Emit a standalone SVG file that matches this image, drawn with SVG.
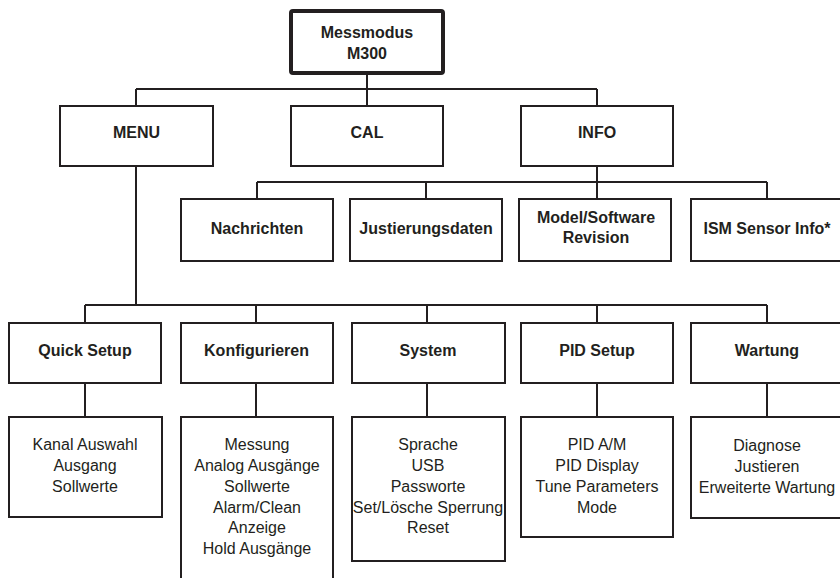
<svg xmlns="http://www.w3.org/2000/svg" width="840" height="578" viewBox="0 0 840 578">
<style>
.box{fill:#fff;stroke:#231f20;stroke-width:2}
.root{fill:#fff;stroke:#231f20;stroke-width:4}
.conn{fill:none;stroke:#231f20;stroke-width:2}
.h{font-family:"Liberation Sans",Arial,sans-serif;font-weight:bold;font-size:16px;fill:#231f20;text-anchor:middle}
.t{font-family:"Liberation Sans",Arial,sans-serif;font-size:16px;fill:#231f20;text-anchor:middle}
</style>
<rect width="840" height="578" fill="#fff"/>
<g id="connectors">
<path class="conn" d="M367 75V89M136 89H597M136 89V106M367 89V106M597 89V106"/>
<path class="conn" d="M597 166V182M257 182H767M257 182V199M426 182V199M597 182V199M767 182V199"/>
<path class="conn" d="M136 166V305M85 305H767M85 305V323M256 305V323M427 305V323M597 305V323M767 305V323"/>
<path class="conn" d="M85 383V417M256 383V417M427 383V417M597 383V417M767 383V417"/>
</g>
<g id="root"><rect class="root" x="291" y="11" width="152" height="62" rx="2"/><text class="h" x="367" y="38">Messmodus</text><text class="h" x="367" y="59">M300</text></g>
<g id="menu"><rect class="box" x="60" y="106" width="153" height="60"/><text class="h" x="136.5" y="138">MENU</text></g>
<g id="cal"><rect class="box" x="291" y="106" width="152" height="60"/><text class="h" x="367" y="138">CAL</text></g>
<g id="info"><rect class="box" x="521" y="106" width="152" height="60"/><text class="h" x="597" y="138">INFO</text></g>
<g id="nachrichten"><rect class="box" x="181" y="199" width="152" height="62"/><text class="h" x="257" y="234">Nachrichten</text></g>
<g id="justierungsdaten"><rect class="box" x="350" y="199" width="152" height="62"/><text class="h" x="426" y="234">Justierungsdaten</text></g>
<g id="model"><rect class="box" x="519" y="199" width="152" height="62"/><text class="h" x="596" y="223">Model/Software</text><text class="h" x="596" y="243">Revision</text></g>
<g id="ism"><rect class="box" x="691" y="199" width="152" height="62"/><text class="h" x="767" y="234">ISM Sensor Info*</text></g>
<g id="quicksetup"><rect class="box" x="9" y="323" width="152" height="60"/><text class="h" x="85" y="356">Quick Setup</text></g>
<g id="konfigurieren"><rect class="box" x="181" y="323" width="152" height="60"/><text class="h" x="256.5" y="356">Konfigurieren</text></g>
<g id="system"><rect class="box" x="352" y="323" width="153" height="60"/><text class="h" x="428" y="356">System</text></g>
<g id="pidsetup"><rect class="box" x="521" y="323" width="152" height="60"/><text class="h" x="597" y="356">PID Setup</text></g>
<g id="wartung"><rect class="box" x="691" y="323" width="152" height="60"/><text class="h" x="767" y="356">Wartung</text></g>
<g id="quicksetup-items"><rect class="box" x="9" y="417" width="153" height="100"/><text class="t" x="85" y="450">Kanal Auswahl</text><text class="t" x="85" y="471">Ausgang</text><text class="t" x="85" y="492">Sollwerte</text></g>
<g id="konfigurieren-items"><rect class="box" x="181" y="417" width="152" height="175"/><text class="t" x="257" y="450">Messung</text><text class="t" x="257" y="471">Analog Ausgänge</text><text class="t" x="257" y="492">Sollwerte</text><text class="t" x="257" y="513">Alarm/Clean</text><text class="t" x="257" y="533">Anzeige</text><text class="t" x="257" y="554">Hold Ausgänge</text></g>
<g id="system-items"><rect class="box" x="352" y="417" width="153" height="144"/><text class="t" x="428" y="450">Sprache</text><text class="t" x="428" y="471">USB</text><text class="t" x="428" y="492">Passworte</text><text class="t" x="428" y="513">Set/Lösche Sperrung</text><text class="t" x="428" y="533">Reset</text></g>
<g id="pidsetup-items"><rect class="box" x="521" y="417" width="152" height="120"/><text class="t" x="597" y="450">PID A/M</text><text class="t" x="597" y="471">PID Display</text><text class="t" x="597" y="492">Tune Parameters</text><text class="t" x="597" y="513">Mode</text></g>
<g id="wartung-items"><rect class="box" x="691" y="417" width="152" height="101"/><text class="t" x="767" y="451">Diagnose</text><text class="t" x="767" y="472">Justieren</text><text class="t" x="767" y="493">Erweiterte Wartung</text></g>
</svg>
